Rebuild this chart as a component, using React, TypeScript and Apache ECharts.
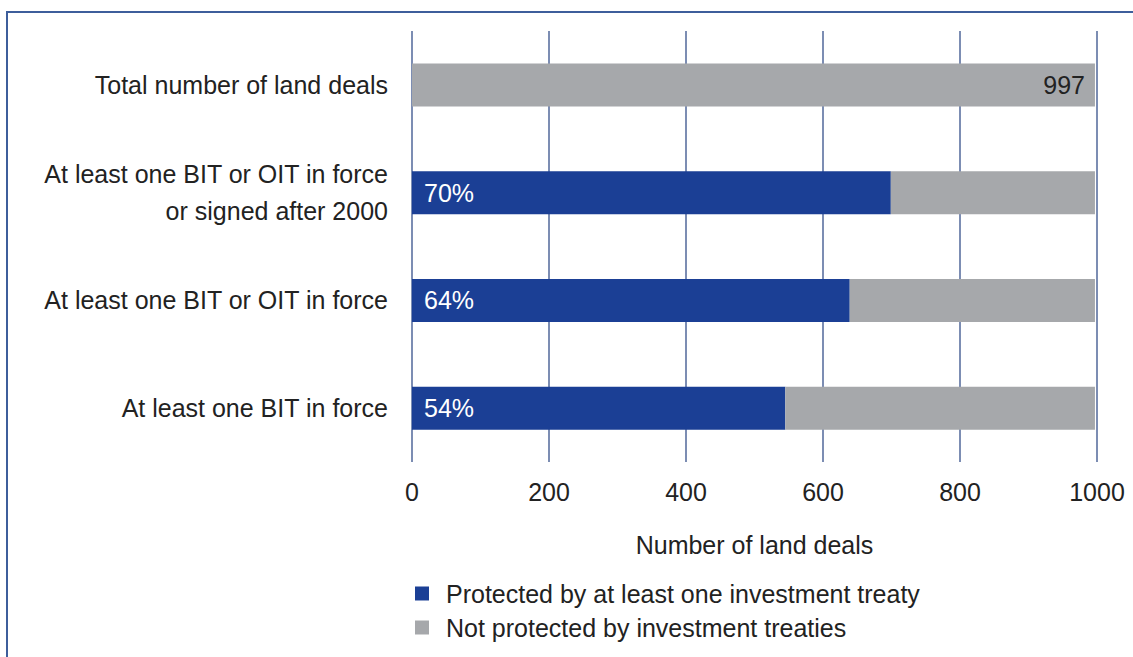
import React, { useEffect, useRef } from "react";
import * as echarts from "echarts";

const categories = [
  "Total number of land deals",
  "At least one BIT or OIT in force\nor signed after 2000",
  "At least one BIT or OIT in force",
  "At least one BIT in force",
];
const protectedDeals = [null, 699, 639, 545];
const notProtectedDeals = [997, 298, 358, 452];
const percentLabels = ["", "70%", "64%", "54%"];
const totalLabels = ["997", "", "", ""];
const xTicks = [0, 200, 400, 600, 800, 1000];

const FONT = "'Liberation Sans', Arial, sans-serif";
const FS = 25;

export default function App() {
  const ref = useRef<HTMLDivElement>(null);
  useEffect(() => {
    document.body.style.margin = "0";
    const chart = echarts.init(ref.current!, null, { renderer: "svg" });
    chart.setOption({
      animation: false,
      backgroundColor: "#ffffff",
      textStyle: { fontFamily: FONT },
      grid: { left: 412, top: 31, width: 685, height: 431 },
      legend: {
        orient: "vertical",
        left: 410,
        top: 576,
        itemWidth: 14,
        itemHeight: 14,
        itemGap: 9,
        icon: "rect",
        textStyle: { fontSize: FS, color: "#222", fontFamily: FONT, padding: [0, 0, 0, 12] },
        data: ["Protected by at least one investment treaty", "Not protected by investment treaties"],
      },
      xAxis: {
        type: "value",
        min: 0,
        max: 1000,
        interval: 200,
        axisLine: { show: false },
        axisTick: { show: false },
        splitLine: { show: true, lineStyle: { color: "#50679a", width: 1.5 } },
        axisLabel: {
          fontSize: FS,
          color: "#222",
          margin: 17,
          fontFamily: FONT,
          formatter: (v: number) => (xTicks.includes(v) ? String(v) : ""),
        },
        name: "Number of land deals",
        nameLocation: "middle",
        nameGap: 70,
        nameTextStyle: { fontSize: FS, color: "#222", fontFamily: FONT },
      },
      yAxis: {
        type: "category",
        inverse: true,
        data: categories,
        axisLine: { show: false },
        axisTick: { show: false },
        axisLabel: {
          fontSize: FS,
          color: "#222",
          margin: 24,
          lineHeight: 37,
          fontFamily: FONT,
        },
      },
      series: [
        {
          name: "Protected by at least one investment treaty",
          type: "bar",
          stack: "deals",
          barWidth: 43,
          itemStyle: { color: "#1b3f95" },
          data: protectedDeals,
          label: {
            show: true,
            position: "insideLeft",
            distance: 12,
            color: "#ffffff",
            fontSize: FS,
            fontFamily: FONT,
            formatter: (p: any) => percentLabels[p.dataIndex],
          },
        },
        {
          name: "Not protected by investment treaties",
          type: "bar",
          stack: "deals",
          barWidth: 43,
          itemStyle: { color: "#a6a8ab" },
          data: notProtectedDeals,
          label: {
            show: true,
            position: "insideRight",
            distance: 10,
            color: "#222",
            fontSize: FS,
            fontFamily: FONT,
            formatter: (p: any) => totalLabels[p.dataIndex],
          },
        },
      ],
      graphic: [
        {
          type: "rect",
          shape: { x: 7, y: 12, width: 1200, height: 700 },
          style: { fill: "none", stroke: "#3d5e9b", lineWidth: 2 },
          silent: true,
        },
      ],
    });
    return () => chart.dispose();
  }, []);
  return <div ref={ref} style={{ width: 1133, height: 657 }} />;
}
